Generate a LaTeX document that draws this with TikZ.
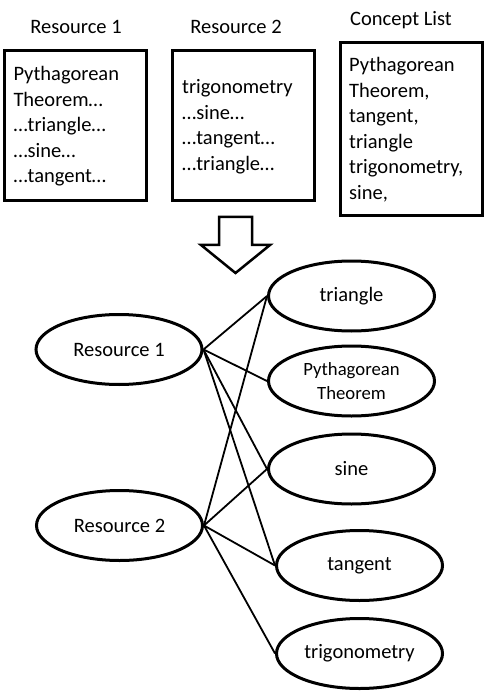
\documentclass[tikz,border=0pt]{standalone}
\usepackage{fontspec}
\setmainfont{Carlito}
\usetikzlibrary{shapes.geometric}
\begin{document}
\begin{tikzpicture}[x=1pt,y=-1pt,
  boxframe/.style={draw,line width=3pt},
  boxtext/.style={anchor=base west,inner sep=0pt,font=\fontsize{20.5}{25.5}\selectfont},
  title/.style={anchor=base,inner sep=0pt,font=\fontsize{20.5}{25.5}\selectfont},
  oval/.style={draw,ellipse,line width=3pt,minimum width=166pt,minimum height=70pt,inner sep=0pt,font=\fontsize{20.5}{25.5}\selectfont},
  link/.style={line width=1.8pt}]
\useasboundingbox (0,0) rectangle (486,692);
% boxes
\node[boxframe,minimum width=142pt,minimum height=150pt,inner sep=0pt] (b1) at (75.5,125.5) {};
\node[boxframe,minimum width=142pt,minimum height=150pt,inner sep=0pt] (b2) at (243.5,125.5) {};
\node[boxframe,minimum width=142pt,minimum height=173pt,inner sep=0pt] (b3) at (411.5,129) {};
% titles
\node[title] (t1) at (76,33.3) {Resource 1};
\node[title] (t2) at (236,33.3) {Resource 2};
\node[title] (t3) at (401,25.7) {Concept List};
% box texts
\node[boxtext] (x1) at (13.3,81) {\begin{tabular}[t]{@{}l@{}}Pythagorean\\Theorem…\\…triangle…\\…sine…\\…tangent…\end{tabular}};
\node[boxtext] (x2) at (182,94) {\begin{tabular}[t]{@{}l@{}}trigonometry\\…sine…\\…tangent…\\…triangle…\end{tabular}};
\node[boxtext] (x3) at (349,72) {\begin{tabular}[t]{@{}l@{}}Pythagorean\\Theorem,\\tangent,\\triangle\\trigonometry,\\sine,\end{tabular}};
% block arrow
\draw[line width=2.5pt,miter limit=10] (219,217) -- (252,217) -- (252,245) -- (270,245) -- (235.5,273) -- (201,245) -- (219,245) -- cycle;
% ellipses
\node[oval] (r1) at (119,349.5) {Resource 1};
\node[oval] (r2) at (119.5,525.5) {Resource 2};
\node[oval] (tri) at (351.5,296) {triangle};
\node[oval,font=\fontsize{18.7}{23.3}\selectfont,align=center] (pyt) at (351.5,381) {Pythagorean\\Theorem};
\node[oval] (sin) at (351.5,469) {sine};
\node[oval] (tan) at (359.5,565.5) {tangent};
\node[oval] (trg) at (359.5,653.5) {trigonometry};
% connectors
\draw[link] (r1.east) -- (tri.west);
\draw[link] (r1.east) -- (pyt.west);
\draw[link] (r1.east) -- (sin.west);
\draw[link] (r1.east) -- (tan.west);
\draw[link] (r2.east) -- (tri.west);
\draw[link] (r2.east) -- (sin.west);
\draw[link] (r2.east) -- (tan.west);
\draw[link] (r2.east) -- (trg.west);
\end{tikzpicture}
\end{document}
